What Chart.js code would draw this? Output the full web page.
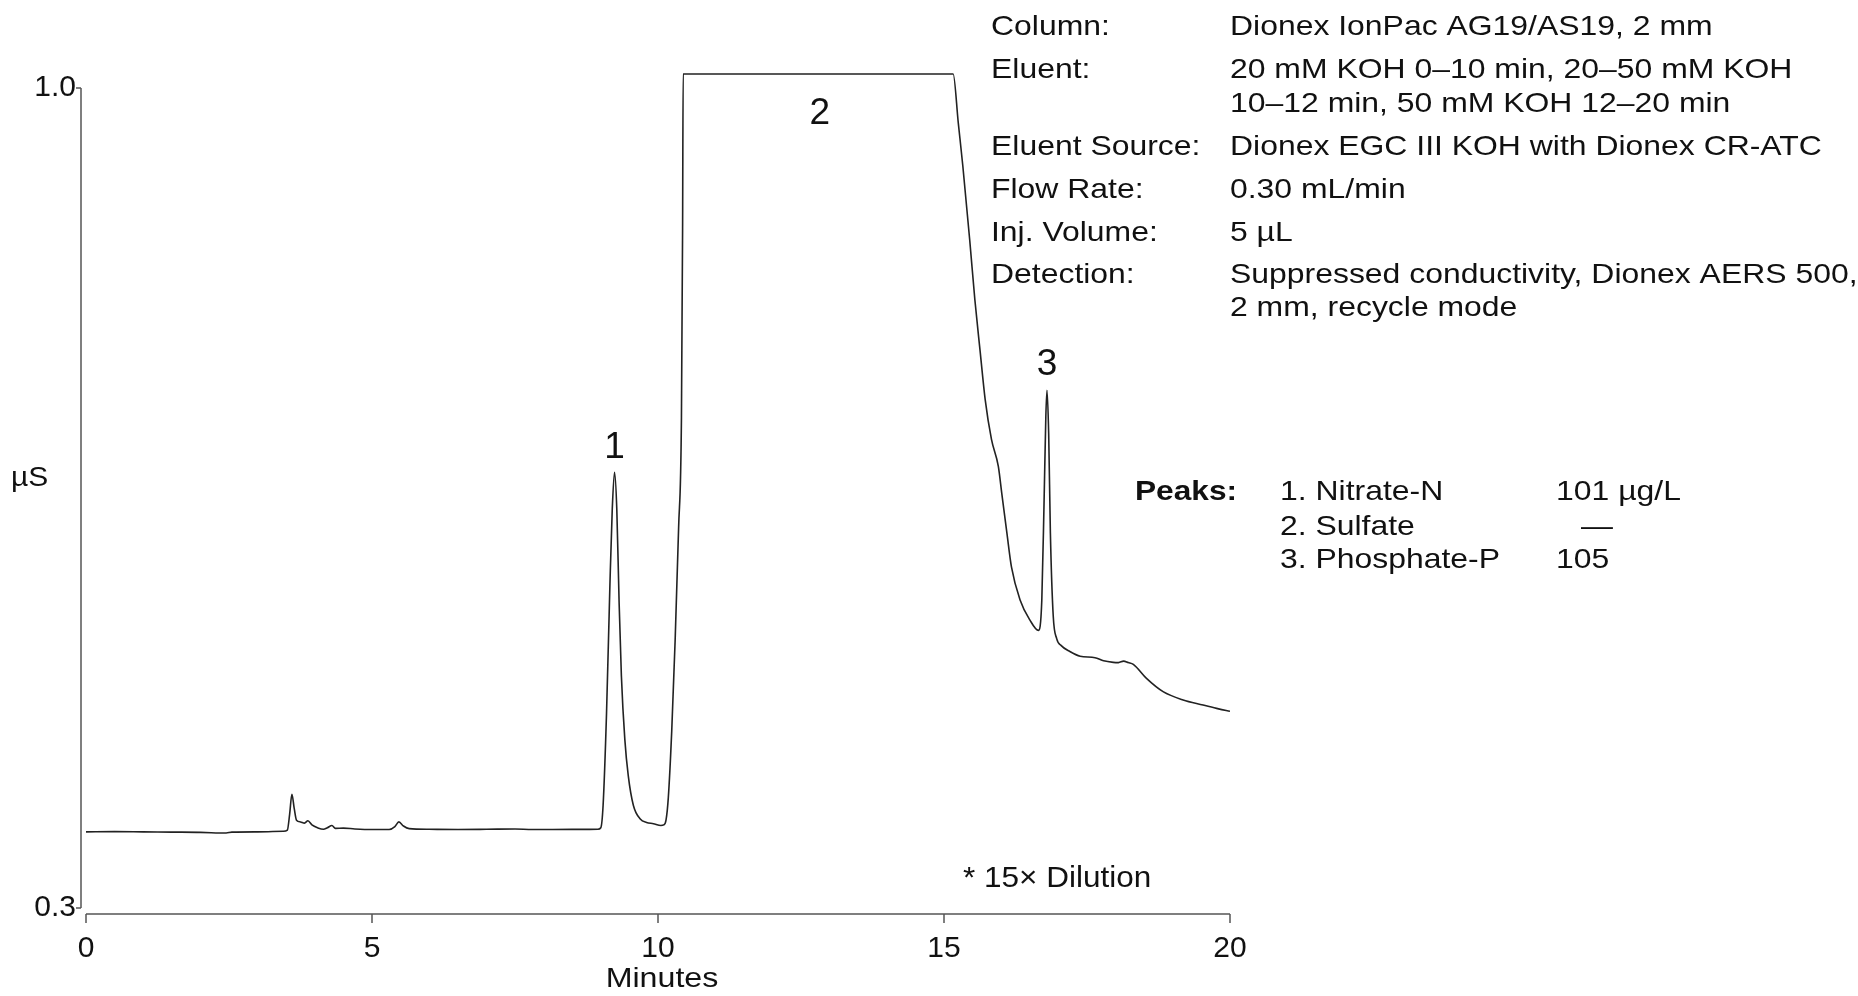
<!DOCTYPE html>
<html>
<head>
<meta charset="utf-8">
<script src="https://cdn.jsdelivr.net/npm/chart.js@4.4.1/dist/chart.umd.min.js"></script>
<style>
    html, body { margin: 0; padding: 0; background: #fff; }
    #wrap { width: 1858px; height: 996px; }
</style>
</head>
<body>
<div id="wrap"><canvas id="chrom" width="1858" height="996"></canvas></div>
<script>
// retention time (min)
const times = [
    0.00, 0.50, 1.00, 1.50, 2.00, 2.45, 2.55, 3.00, 3.45, 3.52,
    3.56, 3.60, 3.64, 3.68, 3.75, 3.82, 3.88, 3.95, 4.05, 4.15,
    4.22, 4.30, 4.36, 4.50, 4.70, 5.00, 5.30, 5.40, 5.47, 5.55,
    5.65, 6.00, 6.50, 7.00, 7.50, 7.80, 8.50, 8.95, 9.00, 9.04,
    9.10, 9.16, 9.20, 9.24, 9.28, 9.32, 9.36, 9.42, 9.48, 9.57,
    9.69, 9.80, 9.92, 10.05, 10.10, 10.14, 10.18, 10.24, 10.30, 10.36,
    10.41, 10.43, 10.44, 15.16, 15.25, 15.33, 15.45, 15.54, 15.63, 15.72,
    15.83, 15.95, 16.01, 16.10, 16.18, 16.33, 16.50, 16.65, 16.71, 16.75,
    16.78, 16.80, 16.83, 16.86, 16.91, 16.97, 17.05, 17.20, 17.38, 17.64,
    17.79, 17.96, 18.05, 18.14, 18.22, 18.31, 18.54, 18.83, 19.18, 19.53,
    19.80, 20.00
];

// conductivity (µS)
const signal = [
    0.3650, 0.3652, 0.3650, 0.3648, 0.3646, 0.3640, 0.3648, 0.3650, 0.3655, 0.3665,
    0.3800, 0.3970, 0.3850, 0.3750, 0.3735, 0.3725, 0.3745, 0.3710, 0.3685, 0.3672,
    0.3685, 0.3705, 0.3680, 0.3682, 0.3675, 0.3670, 0.3670, 0.3695, 0.3735, 0.3700,
    0.3678, 0.3672, 0.3670, 0.3672, 0.3675, 0.3670, 0.3671, 0.3672, 0.3685, 0.3875,
    0.4660, 0.5770, 0.6400, 0.6720, 0.6400, 0.5610, 0.4980, 0.4440, 0.4130, 0.3875,
    0.3760, 0.3730, 0.3720, 0.3705, 0.3710, 0.3750, 0.3940, 0.4510, 0.5290, 0.6240,
    0.7190, 0.8800, 1.0120, 1.0120, 0.9700, 0.9330, 0.8700, 0.8190, 0.7760, 0.7340,
    0.7000, 0.6770, 0.6540, 0.6200, 0.5910, 0.5630, 0.5460, 0.5370, 0.5630, 0.6480,
    0.7190, 0.7420, 0.7050, 0.6200, 0.5490, 0.5300, 0.5240, 0.5190, 0.5150, 0.5137,
    0.5110, 0.5097, 0.5095, 0.5108, 0.5095, 0.5080, 0.4960, 0.4847, 0.4776, 0.4733,
    0.4700, 0.4680
];

const xTicks = [0, 5, 10, 15, 20];
const yTicks = [0.3, 1.0];

const peakNames = ['1', '2', '3'];
const peakTimes = [9.24, 12.83, 16.80];

const infoLabels = ['Column:', 'Eluent:', '', 'Eluent Source:', 'Flow Rate:', 'Inj. Volume:', 'Detection:', ''];
const infoValues = [
    'Dionex IonPac AG19/AS19, 2 mm',
    '20 mM KOH 0\u201310 min, 20\u201350 mM KOH',
    '10\u201312 min, 50 mM KOH 12\u201320 min',
    'Dionex EGC III KOH with Dionex CR-ATC',
    '0.30 mL/min',
    '5 \u00b5L',
    'Suppressed conductivity, Dionex AERS 500,',
    '2 mm, recycle mode'
];

const peakList = ['1. Nitrate-N', '2. Sulfate', '3. Phosphate-P'];
const peakAmounts = ['101 \u00b5g/L', '\u2014', '105'];

const FONT = "'Liberation Sans', Arial, sans-serif";
const INK = '#111';
Chart.defaults.font.family = FONT;
Chart.defaults.color = INK;

// value of the trace at time t (linear between samples)
function signalAt(t) {
    for (let i = 1; i < times.length; i++) {
        if (times[i] >= t) {
            const f = (t - times[i - 1]) / (times[i] - times[i - 1]);
            return signal[i - 1] + f * (signal[i] - signal[i - 1]);
        }
    }
    return signal[signal.length - 1];
}

// the original lettering is a bit wider than Liberation Sans
function wideText(ctx, text, x, y, sx) {
    ctx.save();
    ctx.translate(x, y);
    ctx.scale(sx, 1);
    ctx.fillText(text, 0, 0);
    ctx.restore();
}

// offset axes, peak numbers and the text blocks
const decorations = {
    id: 'decorations',
    afterDraw(chart) {
        const ctx = chart.ctx;
        const xs = chart.scales.x;
        const ys = chart.scales.y;
        const area = chart.chartArea;

        ctx.save();
        ctx.strokeStyle = '#555';
        ctx.lineWidth = 1.5;

        // y axis, drawn a little left of the plot
        const ax = area.left - 5;
        const yTop = ys.getPixelForValue(yTicks[yTicks.length - 1]);
        const yBot = ys.getPixelForValue(yTicks[0]);
        ctx.beginPath();
        ctx.moveTo(ax, yTop);
        ctx.lineTo(ax, yBot);
        yTicks.forEach(v => {
            const py = ys.getPixelForValue(v);
            ctx.moveTo(ax - 5, py);
            ctx.lineTo(ax, py);
        });
        ctx.stroke();

        // x axis at the bottom of the area
        const by = area.bottom;
        ctx.beginPath();
        ctx.moveTo(xs.getPixelForValue(xTicks[0]), by);
        ctx.lineTo(xs.getPixelForValue(xTicks[xTicks.length - 1]), by);
        xTicks.forEach(v => {
            const px = xs.getPixelForValue(v);
            ctx.moveTo(px, by);
            ctx.lineTo(px, by + 9);
        });
        ctx.stroke();

        ctx.fillStyle = INK;

        // axis titles
        ctx.font = '28px ' + FONT;
        ctx.textAlign = 'left';
        ctx.textBaseline = 'middle';
        wideText(ctx, '\u00b5S', 11, 478, 1.07);
        ctx.textAlign = 'center';
        wideText(ctx, 'Minutes', (area.left + area.right) / 2 + 4, 979, 1.15);

        // peak numbers
        const offsets = [-24, 40, -25];
        ctx.font = '37px ' + FONT;
        peakNames.forEach((name, i) => {
            const px = xs.getPixelForValue(peakTimes[i]);
            const py = ys.getPixelForValue(signalAt(peakTimes[i])) + offsets[i];
            ctx.fillText(name, px, py);
        });

        // conditions
        const sx = 1.14;
        ctx.font = '28px ' + FONT;
        ctx.textAlign = 'left';
        ctx.textBaseline = 'alphabetic';
        const baselines = [35, 78, 112, 155, 198, 241, 283, 316];
        infoValues.forEach((val, i) => {
            if (infoLabels[i]) wideText(ctx, infoLabels[i], 991, baselines[i], sx);
            wideText(ctx, val, 1230, baselines[i], sx);
        });

        // peak table
        const rows = [500, 535, 568];
        ctx.font = 'bold 28px ' + FONT;
        wideText(ctx, 'Peaks:', 1135, rows[0], 1.13);
        ctx.font = '28px ' + FONT;
        peakList.forEach((name, i) => {
            wideText(ctx, name, 1280, rows[i], sx);
            if (peakAmounts[i] === '\u2014') {
                ctx.textAlign = 'center';
                wideText(ctx, peakAmounts[i], 1597, rows[i], sx);
                ctx.textAlign = 'left';
            } else {
                wideText(ctx, peakAmounts[i], 1556, rows[i], sx);
            }
        });

        // note
        ctx.font = '30px ' + FONT;
        wideText(ctx, '* 15\u00d7 Dilution', 963, 887, 1.05);

        ctx.restore();
    }
};

const chart = new Chart(document.getElementById('chrom'), {
    type: 'line',
    data: {
        datasets: [{
            data: times.map((t, i) => ({ x: t, y: signal[i] })),
            borderColor: '#222',
            borderWidth: 1.6,
            pointRadius: 0,
            cubicInterpolationMode: 'monotone',
            fill: false
        }]
    },
    options: {
        responsive: false,
        animation: false,
        layout: { padding: { left: 0, top: 60, right: 628, bottom: 0 } },
        plugins: {
            legend: { display: false },
            tooltip: { enabled: false }
        },
        scales: {
            x: {
                type: 'linear',
                min: 0,
                max: 20,
                afterBuildTicks: axis => { axis.ticks = xTicks.map(v => ({ value: v })); },
                afterFit: axis => { axis.height = 82; },
                grid: { display: false, drawTicks: false },
                border: { display: false },
                ticks: {
                    padding: 17,
                    maxRotation: 0,
                    font: { size: 30 },
                    color: INK,
                    callback: v => String(v)
                }
            },
            y: {
                type: 'linear',
                min: 0.2949,
                max: 1.0239,
                afterBuildTicks: axis => { axis.ticks = yTicks.map(v => ({ value: v })); },
                afterFit: axis => { axis.width = 86; },
                grid: { display: false, drawTicks: false },
                border: { display: false },
                ticks: {
                    padding: 10,
                    font: { size: 30 },
                    color: INK,
                    callback: v => v.toFixed(1)
                }
            }
        }
    },
    plugins: [decorations]
});
</script>
</body>
</html>
